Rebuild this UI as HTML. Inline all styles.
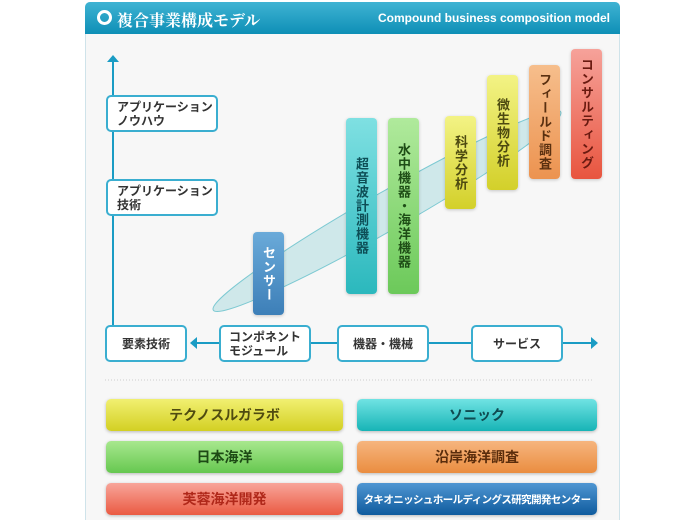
<!DOCTYPE html><html style="overflow:hidden;height:520px"><head><meta charset="utf-8"><style>
body{margin:0;width:700px;height:520px;background:#fff;font-family:"Liberation Sans","Noto Sans CJK JP",sans-serif;position:relative;overflow:hidden}
.p{position:absolute;left:85px;top:2px;width:533px;height:530px;background:#f7f7f7;border:1px solid #cfe3ea;border-radius:5px 5px 0 0}
.h{position:absolute;left:85px;top:2px;width:535px;height:32px;background:linear-gradient(#3fb3d3,#0e8fb6);border-radius:5px 5px 0 0;color:#fff;font-weight:bold}
.b{position:absolute;width:31px;border-radius:4px;color:#333;font-weight:bold;font-size:13px;writing-mode:vertical-rl;display:flex;align-items:center;justify-content:center;box-shadow:0 1px 3px rgba(0,0,0,.2);letter-spacing:1px}
.bx{position:absolute;background:#fff;border:2px solid #3aaed0;border-radius:5px;font-size:12px;font-weight:bold;color:#333;display:flex;align-items:center;justify-content:center;line-height:14px;box-sizing:border-box}
.c{position:absolute;height:32px;border-radius:5px;font-size:14px;font-weight:bold;display:flex;align-items:center;justify-content:center;box-shadow:0 1px 3px rgba(0,0,0,.25);white-space:nowrap}
</style></head><body>
<div class="p"></div>
<div class="h"><span style="position:absolute;left:12px;top:8px;width:9px;height:9px;border:3px solid #fff;border-radius:50%"></span><span style="position:absolute;left:32px;top:6px;font-size:16px;font-family:'Noto Serif CJK SC',serif">複合事業構成モデル</span><span style="position:absolute;right:10px;top:9px;font-size:12px">Compound business composition model</span></div>
<svg style="position:absolute;left:0;top:0" width="700" height="520">
<ellipse cx="387" cy="211" rx="200" ry="19" transform="rotate(-29.7 387 211)" fill="#cfe8ea" stroke="#7cc9d2"/>
<line x1="113" y1="62" x2="113" y2="326" stroke="#1a9cc4" stroke-width="2"/>
<polygon points="113,55 119,62 107,62" fill="#1a9cc4"/>
<line x1="192" y1="343" x2="592" y2="343" stroke="#1a9cc4" stroke-width="2"/>
<polygon points="190,343 197,337 197,349" fill="#1a9cc4"/>
<polygon points="598,343 591,337 591,349" fill="#1a9cc4"/>
<line x1="105" y1="380" x2="592" y2="380" stroke="#ccc" stroke-dasharray="1,2"/>
</svg>
<div class="bx" style="left:106px;top:95px;width:112px;height:37px;justify-content:flex-start;padding-left:9px">アプリケーション<br>ノウハウ</div>
<div class="bx" style="left:106px;top:179px;width:112px;height:37px;justify-content:flex-start;padding-left:9px">アプリケーション<br>技術</div>
<div class="bx" style="left:105px;top:325px;width:82px;height:37px">要素技術</div>
<div class="bx" style="left:219px;top:325px;width:92px;height:37px">コンポネント<br>モジュール</div>
<div class="bx" style="left:337px;top:325px;width:92px;height:37px">機器・機械</div>
<div class="bx" style="left:471px;top:325px;width:92px;height:37px">サービス</div>
<div class="b" style="left:253px;top:232px;height:83px;background:linear-gradient(#6aaad9,#3d7fb8);color:#fff">センサー</div>
<div class="b" style="left:346px;top:118px;height:176px;background:linear-gradient(#7fe0e2,#2bb8bd);color:#0d4d55">超音波計測機器</div>
<div class="b" style="left:388px;top:118px;height:176px;background:linear-gradient(#b0ea9c,#6cc95a);color:#1e4d16">水中機器・海洋機器</div>
<div class="b" style="left:445px;top:116px;height:93px;background:linear-gradient(#f3f385,#d3d02a);color:#4d4a10">科学分析</div>
<div class="b" style="left:487px;top:75px;height:115px;background:linear-gradient(#f3f385,#d3d02a);color:#4d4a10">微生物分析</div>
<div class="b" style="left:529px;top:65px;height:114px;background:linear-gradient(#f6be8c,#ec9350);color:#5a3010">フィールド調査</div>
<div class="b" style="left:571px;top:49px;height:130px;background:linear-gradient(#f6a29a,#e8553f);color:#6a1a10">コンサルティング</div>
<div class="c" style="left:106px;top:399px;width:237px;background:linear-gradient(#f1f071,#d3d023);color:#4f4b10">テクノスルガラボ</div>
<div class="c" style="left:357px;top:399px;width:240px;background:linear-gradient(#70e3e3,#17b4b6);color:#0f4a50">ソニック</div>
<div class="c" style="left:106px;top:441px;width:237px;background:linear-gradient(#a8e88e,#66c850);color:#1d4a15">日本海洋</div>
<div class="c" style="left:357px;top:441px;width:240px;background:linear-gradient(#f6b57e,#ea8d40);color:#5a2d0c">沿岸海洋調査</div>
<div class="c" style="left:106px;top:483px;width:237px;background:linear-gradient(#f8a59a,#ea5a42);color:#b0281a">芙蓉海洋開発</div>
<div class="c" style="left:357px;top:483px;width:240px;background:linear-gradient(#4f96d2,#0f5b9e);color:#fff;font-size:10.5px;letter-spacing:-0.6px">タキオニッシュホールディングス研究開発センター</div>
</body></html>
